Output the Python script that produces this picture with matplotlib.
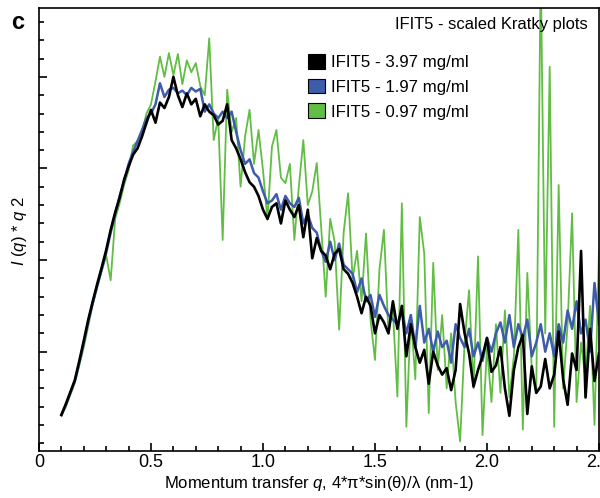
import matplotlib
matplotlib.use('Agg')
import matplotlib.pyplot as plt
import numpy as np
from matplotlib.patches import Patch
from matplotlib.ticker import MultipleLocator, FixedLocator, FuncFormatter

plt.rcParams['font.family'] = ['Liberation Sans', 'DejaVu Sans']
plt.rcParams['mathtext.fontset'] = 'custom'
plt.rcParams['mathtext.rm'] = 'Liberation Sans'
plt.rcParams['mathtext.it'] = 'Liberation Sans:italic'

# measurement grid (q in nm-1)
q = np.round(np.arange(0.10, 2.501, 0.02), 2)

# I(q)*q^2, arbitrary units
conc_397 = [0.31, 0.43, 0.56, 0.69, 0.90, 1.12, 1.35, 1.55, 1.74, 1.92, 2.11, 2.33, 2.52, 2.68, 2.88, 3.02, 3.15, 3.22, 3.35, 3.50,
            3.64, 3.50, 3.72, 3.66, 3.78, 4.00, 3.80, 3.67, 3.82, 3.70, 3.76, 3.57, 3.70, 3.62, 3.58, 3.48, 3.52, 3.70, 3.31, 3.22,
            3.10, 2.96, 2.85, 2.80, 2.70, 2.55, 2.45, 2.58, 2.62, 2.40, 2.65, 2.55, 2.47, 2.60, 2.25, 2.55, 2.02, 2.24, 2.10, 2.05,
            1.90, 2.07, 2.12, 1.90, 1.85, 1.75, 1.60, 1.42, 1.60, 1.50, 1.20, 1.40, 1.32, 1.20, 1.55, 1.25, 1.50, 0.95, 1.30, 1.05,
            0.88, 1.02, 0.65, 1.00, 0.85, 0.75, 0.82, 0.58, 0.80, 1.52, 1.20, 0.98, 0.62, 0.80, 0.95, 1.15, 0.78, 0.85, 1.05, 0.60,
            0.30, 0.80, 1.05, 1.18, 0.32, 0.84, 0.55, 0.62, 0.92, 0.60, 0.75, 1.22, 0.70, 0.42, 0.98, 0.80, 2.10, 0.50, 1.25, 0.68,
            0.98]
conc_197 = [0.31, 0.42, 0.55, 0.68, 0.88, 1.10, 1.33, 1.53, 1.72, 1.90, 2.08, 2.30, 2.50, 2.70, 2.86, 3.05, 3.18, 3.30, 3.42, 3.55,
            3.60, 3.70, 3.93, 3.78, 3.86, 3.88, 3.82, 3.85, 3.80, 3.88, 3.84, 3.87, 3.62, 3.70, 3.60, 3.55, 3.62, 3.55, 3.62, 3.40,
            3.20, 3.05, 3.10, 2.95, 2.90, 2.75, 2.62, 2.65, 2.72, 2.55, 2.70, 2.62, 2.58, 2.68, 2.40, 2.50, 2.35, 2.30, 2.10, 1.98,
            2.20, 2.00, 2.18, 1.95, 1.90, 1.85, 1.65, 1.80, 1.55, 1.62, 1.38, 1.62, 1.50, 1.40, 1.35, 1.30, 1.45, 1.20, 1.40, 1.05,
            1.50, 1.10, 1.25, 1.00, 1.22, 1.05, 1.12, 0.88, 1.30, 1.15, 1.05, 1.25, 0.95, 1.10, 0.90, 1.15, 1.00, 1.20, 1.32, 1.10,
            1.40, 1.05, 1.30, 1.15, 1.35, 0.95, 1.10, 1.30, 1.00, 1.20, 0.95, 1.30, 1.10, 1.45, 1.25, 1.55, 1.20, 1.35, 1.00, 1.75,
            1.30]
conc_097 = [0.30, 0.40, 0.53, 0.66, 0.85, 1.05, 1.28, 1.52, 1.70, 1.88, 2.05, 1.78, 2.45, 2.62, 2.82, 2.98, 3.25, 3.30, 3.40, 3.60,
            3.70, 3.95, 4.22, 4.00, 4.26, 4.02, 4.25, 3.92, 4.18, 4.05, 4.15, 3.90, 3.80, 4.42, 3.31, 3.55, 2.22, 3.86, 3.40, 3.55,
            2.80, 3.35, 3.64, 3.05, 3.42, 2.98, 2.44, 3.24, 3.42, 2.90, 2.84, 3.05, 2.22, 2.80, 3.31, 2.60, 2.75, 3.06, 2.35, 1.60,
            2.45, 2.20, 1.24, 2.30, 2.73, 1.80, 2.10, 1.55, 2.29, 1.35, 0.91, 1.90, 2.33, 1.20, 1.45, 0.51, 2.62, 0.18, 1.40, 0.70,
            2.47, 2.07, 0.33, 1.97, 0.80, 1.40, 0.60, 1.20, 0.45, 0.02, 1.10, 1.67, 0.60, 2.04, 0.09, 1.05, 0.45, 1.30, 0.55, 1.45,
            0.50, 0.95, 2.33, 0.15, 1.86, 0.80, 0.55, 5.20, 1.20, 4.11, 0.18, 2.82, 0.60, 1.30, 2.51, 0.45, 1.10, 0.70, 1.50, 0.20,
            2.10]

labels = ['IFIT5 - 3.97 mg/ml', 'IFIT5 - 1.97 mg/ml', 'IFIT5 - 0.97 mg/ml']
colors = ['#000000', '#3d5caa', '#62bd45']

fig = plt.figure(figsize=(6, 4.98), dpi=100)
ax = fig.add_axes([0.065, 0.0944, 0.9333, 0.8896])

ax.plot(q, conc_097, color=colors[2], lw=1.3)
ax.plot(q, conc_197, color=colors[1], lw=1.8)
ax.plot(q, conc_397, color=colors[0], lw=1.9)

ax.set_xlim(0, 2.5)
ax.set_ylim(-0.084, 4.752)
ax.xaxis.set_major_locator(MultipleLocator(0.5))
ax.xaxis.set_minor_locator(MultipleLocator(0.1))
ax.xaxis.set_major_formatter(FuncFormatter(lambda v, p: '0' if v == 0 else f'{v:.1f}'))
ax.yaxis.set_major_locator(FixedLocator([1, 2, 3, 4]))
ax.yaxis.set_minor_locator(MultipleLocator(0.2))
ax.tick_params(which='both', direction='in', top=False, right=False, labelleft=False, width=1.2, labelsize=13)
ax.tick_params(which='major', length=6, pad=2.5)
ax.tick_params(which='minor', length=3.5)
for s in ax.spines.values():
    s.set_linewidth(1.2)

ax.set_xlabel('Momentum transfer $\\it{q}$, 4*π*sin(θ)/λ (nm-1)', fontsize=12)
ax.xaxis.set_label_coords(0.5, -0.052)
ax.set_ylabel('$\\it{I}$ ($\\it{q}$) * $\\it{q}$ 2', fontsize=12)
ax.yaxis.set_label_coords(-0.018, 0.497)

ax.text(0.98, 0.962, 'IFIT5 - scaled Kratky plots', transform=ax.transAxes,
        ha='right', va='center', fontsize=11.9)

handles = [Patch(facecolor=c, edgecolor='black', lw=0.8) for c in colors]
ax.legend(handles, labels, loc='upper left', bbox_to_anchor=(0.454, 0.93), frameon=False,
          fontsize=12.2, handlelength=0.95, handleheight=0.95, handletextpad=0.4, labelspacing=0.5)

fig.text(0.018, 0.955, 'c', fontsize=17, fontweight='bold', va='center')

fig.savefig('out.png', dpi=100)
